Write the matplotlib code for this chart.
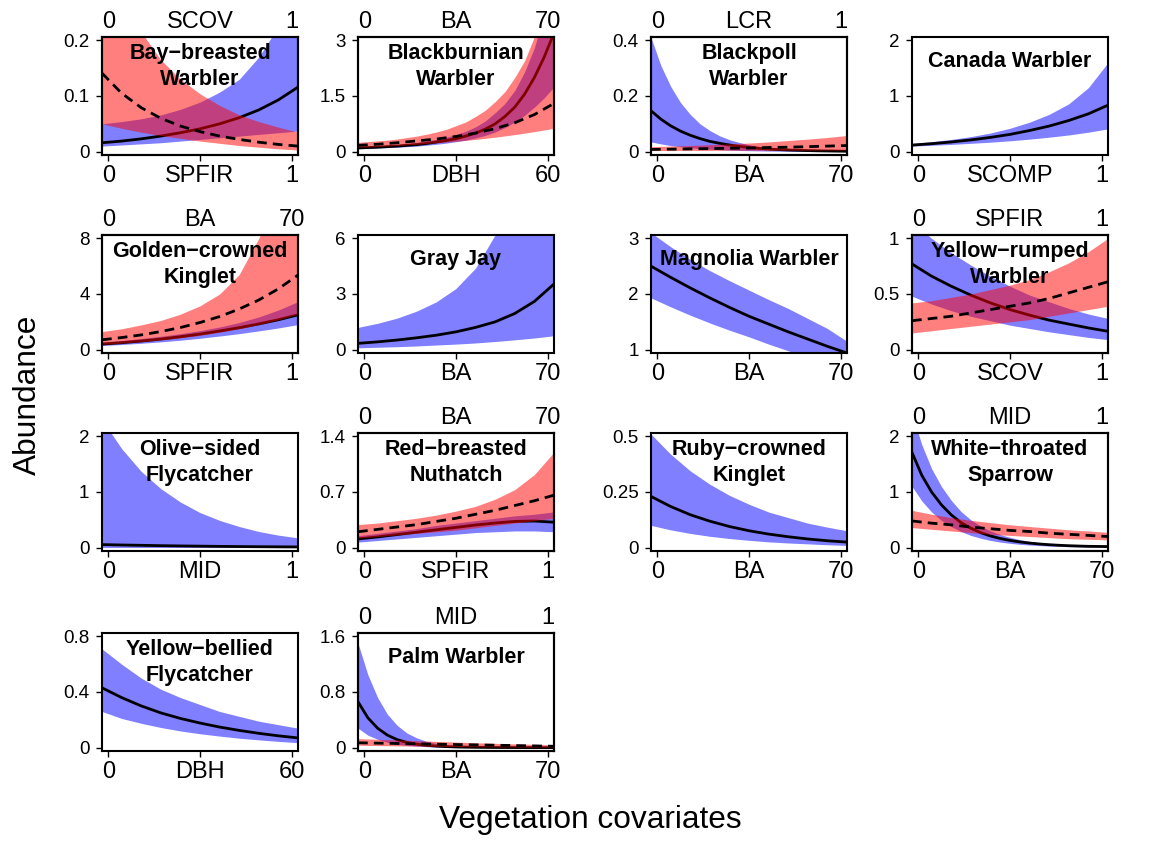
import matplotlib
matplotlib.use("Agg")
import matplotlib.pyplot as plt
import numpy as np

plt.rcParams['font.family'] = ['Liberation Sans', 'DejaVu Sans']

# Especies y covariables (eje inferior = banda azul, eje superior = banda roja)
species = ['Bay\u2212breasted\nWarbler', 'Blackburnian\nWarbler', 'Blackpoll\nWarbler', 'Canada Warbler',
           'Golden\u2212crowned\nKinglet', 'Gray Jay', 'Magnolia Warbler', 'Yellow\u2212rumped\nWarbler',
           'Olive\u2212sided\nFlycatcher', 'Red\u2212breasted\nNuthatch', 'Ruby\u2212crowned\nKinglet',
           'White\u2212throated\nSparrow', 'Yellow\u2212bellied\nFlycatcher', 'Palm Warbler']
bottom_cov = ['SPFIR', 'DBH', 'BA', 'SCOMP', 'SPFIR', 'BA', 'BA', 'SCOV',
              'MID', 'SPFIR', 'BA', 'BA', 'DBH', 'BA']
top_cov = ['SCOV', 'BA', 'LCR', None, 'BA', None, None, 'SPFIR',
           None, 'BA', None, 'MID', None, 'MID']
cov_max = {'SPFIR': 1, 'SCOV': 1, 'SCOMP': 1, 'LCR': 1, 'MID': 1, 'BA': 70, 'DBH': 60}
y_ticks = [['0', '0.1', '0.2'], ['0', '1.5', '3'], ['0', '0.2', '0.4'], ['0', '1', '2'],
           ['0', '4', '8'], ['0', '3', '6'], ['1', '2', '3'], ['0', '0.5', '1'],
           ['0', '1', '2'], ['0', '0.7', '1.4'], ['0', '0.25', '0.5'], ['0', '1', '2'],
           ['0', '0.4', '0.8'], ['0', '0.8', '1.6']]

# Valores estimados en puntos equiespaciados a lo largo de cada eje
# Bay-breasted Warbler
bbwa_fit = [0.016, 0.019, 0.023, 0.028, 0.034, 0.041, 0.05, 0.061, 0.075, 0.093, 0.116]
bbwa_lo = [0.010, 0.012, 0.014, 0.016, 0.019, 0.022, 0.025, 0.028, 0.031, 0.034, 0.037]
bbwa_hi = [0.05, 0.054, 0.059, 0.066, 0.076, 0.089, 0.107, 0.13, 0.17, 0.225, 0.3]
bbwa_fit2 = [0.141, 0.105, 0.079, 0.06, 0.046, 0.036, 0.028, 0.022, 0.017, 0.013, 0.01]
bbwa_lo2 = [0.05, 0.042, 0.035, 0.029, 0.024, 0.019, 0.015, 0.011, 0.008, 0.005, 0.003]
bbwa_hi2 = [0.4, 0.29, 0.215, 0.165, 0.13, 0.104, 0.083, 0.066, 0.054, 0.044, 0.035]
# Blackburnian Warbler
blbw_fit = [0.1, 0.11, 0.12, 0.135, 0.15, 0.17, 0.19, 0.22, 0.26, 0.3, 0.35,
            0.42, 0.5, 0.61, 0.75, 0.95, 1.2, 1.55, 2.0, 2.55, 3.2]
blbw_lo = [0.08, 0.09, 0.1, 0.11, 0.12, 0.135, 0.15, 0.175, 0.2, 0.23, 0.27,
           0.31, 0.37, 0.44, 0.53, 0.65, 0.8, 0.98, 1.2, 1.45, 1.75]
blbw_hi = [0.13, 0.14, 0.15, 0.17, 0.19, 0.22, 0.25, 0.29, 0.33, 0.39, 0.46,
           0.55, 0.67, 0.83, 1.05, 1.3, 1.65, 2.15, 2.8, 3.7, 5.0]
blbw_fit2 = [0.17, 0.2, 0.24, 0.29, 0.34, 0.41, 0.5, 0.62, 0.78, 1.0, 1.3]
blbw_lo2 = [0.12, 0.13, 0.14, 0.155, 0.17, 0.185, 0.2, 0.22, 0.24, 0.26, 0.28,
            0.305, 0.33, 0.36, 0.39, 0.425, 0.46, 0.5, 0.54, 0.585, 0.63]
blbw_hi2 = [0.25, 0.27, 0.29, 0.31, 0.34, 0.38, 0.42, 0.47, 0.53, 0.6, 0.7,
            0.8, 0.95, 1.12, 1.35, 1.62, 2.0, 2.45, 3.1, 3.9, 5.0]
# Blackpoll Warbler
bpwa_fit = [0.147, 0.117, 0.093, 0.074, 0.059, 0.047, 0.037, 0.03, 0.024, 0.019, 0.015,
            0.012, 0.0095, 0.0075, 0.006, 0.0048, 0.0038, 0.003, 0.0024, 0.0019, 0.0015]
bpwa_lo = [0.035, 0.028, 0.022, 0.018, 0.014, 0.011, 0.009, 0.007, 0.0055, 0.0044, 0.0035,
           0.0028, 0.0022, 0.0018, 0.0014, 0.0011, 0.0009, 0.0007, 0.0006, 0.0005, 0.0004]
bpwa_hi = [0.41, 0.31, 0.235, 0.177, 0.134, 0.1, 0.076, 0.057, 0.043, 0.033, 0.025,
           0.019, 0.015, 0.012, 0.0095, 0.0075, 0.006, 0.005, 0.0045, 0.004, 0.0035]
bpwa_fit2 = [0.008, 0.009, 0.01, 0.011, 0.012, 0.013, 0.015, 0.016, 0.018, 0.02, 0.022]
bpwa_lo2 = [0.004, 0.004, 0.0045, 0.0045, 0.005, 0.005, 0.005, 0.0055, 0.0055, 0.006, 0.006]
bpwa_hi2 = [0.018, 0.02, 0.022, 0.025, 0.028, 0.031, 0.035, 0.04, 0.045, 0.051, 0.058]
# Canada Warbler
cawa_fit = [0.118, 0.143, 0.174, 0.211, 0.256, 0.31, 0.38, 0.46, 0.56, 0.68, 0.835]
cawa_lo = [0.1, 0.115, 0.13, 0.15, 0.17, 0.195, 0.225, 0.26, 0.3, 0.35, 0.41]
cawa_hi = [0.145, 0.18, 0.22, 0.27, 0.335, 0.42, 0.53, 0.67, 0.86, 1.15, 1.6]
# Golden-crowned Kinglet
gcki_fit = [0.4, 0.5, 0.62, 0.76, 0.93, 1.12, 1.34, 1.58, 1.85, 2.15, 2.5]
gcki_lo = [0.3, 0.37, 0.46, 0.56, 0.68, 0.82, 0.98, 1.15, 1.35, 1.56, 1.8]
gcki_hi = [0.55, 0.66, 0.8, 0.96, 1.15, 1.37, 1.63, 1.95, 2.35, 2.85, 3.45]
gcki_fit2 = [0.71, 0.87, 1.06, 1.3, 1.59, 1.95, 2.38, 2.92, 3.57, 4.37, 5.36]
gcki_lo2 = [0.38, 0.47, 0.57, 0.7, 0.85, 1.03, 1.25, 1.5, 1.8, 2.15, 2.55]
gcki_hi2 = [1.3, 1.5, 1.78, 2.1, 2.55, 3.15, 4.0, 5.4, 8.0, 11.5, 16.0]
# Gray Jay
grja_fit = [0.34, 0.42, 0.52, 0.64, 0.78, 0.96, 1.2, 1.5, 1.95, 2.6, 3.54]
grja_lo = [0.1, 0.13, 0.16, 0.2, 0.25, 0.3, 0.36, 0.44, 0.53, 0.63, 0.75]
grja_hi = [1.2, 1.42, 1.7, 2.08, 2.58, 3.3, 4.4, 6.2, 9.0, 13.0, 17.0]
# Magnolia Warbler
mawa_fit = [2.5, 2.3, 2.11, 1.93, 1.76, 1.6, 1.46, 1.32, 1.19, 1.06, 0.94]
mawa_lo = [1.93, 1.77, 1.62, 1.48, 1.35, 1.23, 1.1, 0.98, 0.87, 0.77, 0.68]
mawa_hi = [3.1, 2.85, 2.62, 2.42, 2.24, 2.07, 1.9, 1.74, 1.56, 1.38, 1.15]
# Yellow-rumped Warbler
yrwa_fit = [0.77, 0.66, 0.57, 0.49, 0.42, 0.36, 0.31, 0.265, 0.23, 0.195, 0.165]
yrwa_lo = [0.48, 0.41, 0.35, 0.3, 0.26, 0.22, 0.19, 0.16, 0.135, 0.11, 0.09]
yrwa_hi = [1.15, 1.0, 0.87, 0.76, 0.66, 0.57, 0.49, 0.43, 0.37, 0.32, 0.28]
yrwa_fit2 = [0.26, 0.28, 0.3, 0.33, 0.36, 0.39, 0.42, 0.46, 0.51, 0.56, 0.61]
yrwa_lo2 = [0.15, 0.17, 0.19, 0.21, 0.23, 0.25, 0.27, 0.3, 0.33, 0.36, 0.39]
yrwa_hi2 = [0.42, 0.44, 0.47, 0.5, 0.54, 0.58, 0.63, 0.7, 0.78, 0.88, 1.0]
# Olive-sided Flycatcher
osfl_fit = [0.055, 0.048, 0.042, 0.036, 0.031, 0.027, 0.023, 0.02, 0.017, 0.015, 0.013]
osfl_lo = [0.004, 0.004, 0.003, 0.003, 0.003, 0.002, 0.002, 0.002, 0.002, 0.001, 0.001]
osfl_hi = [2.3, 1.78, 1.37, 1.06, 0.82, 0.63, 0.49, 0.38, 0.29, 0.225, 0.175]
# Red-breasted Nuthatch
rbnu_fit = [0.11, 0.135, 0.165, 0.195, 0.225, 0.255, 0.285, 0.31, 0.33, 0.335, 0.32]
rbnu_lo = [0.07, 0.09, 0.11, 0.13, 0.15, 0.17, 0.19, 0.2, 0.21, 0.21, 0.2]
rbnu_hi = [0.15, 0.18, 0.21, 0.24, 0.28, 0.31, 0.34, 0.37, 0.4, 0.42, 0.45]
rbnu_fit2 = [0.2, 0.23, 0.26, 0.29, 0.33, 0.37, 0.42, 0.47, 0.53, 0.59, 0.66]
rbnu_lo2 = [0.12, 0.14, 0.16, 0.18, 0.2, 0.22, 0.25, 0.28, 0.31, 0.34, 0.37]
rbnu_hi2 = [0.29, 0.31, 0.34, 0.37, 0.41, 0.46, 0.52, 0.61, 0.73, 0.92, 1.2]
# Ruby-crowned Kinglet
rcki_fit = [0.23, 0.185, 0.148, 0.119, 0.095, 0.076, 0.061, 0.049, 0.039, 0.031, 0.025]
rcki_lo = [0.1, 0.08, 0.064, 0.051, 0.041, 0.033, 0.026, 0.021, 0.017, 0.013, 0.01]
rcki_hi = [0.51, 0.42, 0.345, 0.285, 0.235, 0.195, 0.16, 0.135, 0.11, 0.092, 0.076]
# White-throated Sparrow
wtsp_fit = [1.71, 1.3, 1.0, 0.77, 0.59, 0.45, 0.35, 0.27, 0.21, 0.165, 0.13,
            0.103, 0.082, 0.066, 0.053, 0.043, 0.035, 0.029, 0.024, 0.022, 0.02]
wtsp_lo = [1.1, 0.84, 0.64, 0.49, 0.38, 0.29, 0.22, 0.17, 0.13, 0.1, 0.078,
           0.06, 0.047, 0.037, 0.029, 0.023, 0.018, 0.015, 0.012, 0.011, 0.01]
wtsp_hi = [2.4, 1.85, 1.42, 1.1, 0.85, 0.65, 0.5, 0.39, 0.3, 0.235, 0.185,
           0.145, 0.115, 0.092, 0.074, 0.06, 0.05, 0.042, 0.036, 0.033, 0.03]
wtsp_fit2 = [0.48, 0.44, 0.41, 0.37, 0.34, 0.31, 0.29, 0.26, 0.24, 0.22, 0.2]
wtsp_lo2 = [0.36, 0.33, 0.3, 0.27, 0.24, 0.22, 0.2, 0.18, 0.16, 0.15, 0.14]
wtsp_hi2 = [0.67, 0.6, 0.54, 0.49, 0.45, 0.41, 0.38, 0.35, 0.32, 0.3, 0.275]
# Yellow-bellied Flycatcher
ybfl_fit = [0.43, 0.36, 0.3, 0.25, 0.21, 0.177, 0.148, 0.124, 0.103, 0.085, 0.07]
ybfl_lo = [0.26, 0.21, 0.175, 0.145, 0.12, 0.1, 0.083, 0.068, 0.056, 0.045, 0.036]
ybfl_hi = [0.71, 0.6, 0.5, 0.42, 0.36, 0.31, 0.26, 0.225, 0.19, 0.165, 0.14]
# Palm Warbler
pawa_fit = [0.66, 0.43, 0.28, 0.18, 0.115, 0.075, 0.05, 0.033, 0.022, 0.015, 0.01,
            0.007, 0.005, 0.0035, 0.0025, 0.002, 0.0015, 0.001, 0.0008, 0.0006, 0.0005]
pawa_lo = [0.28, 0.18, 0.12, 0.077, 0.05, 0.033, 0.022, 0.014, 0.009, 0.006, 0.004,
           0.0027, 0.0018, 0.0012, 0.0008, 0.0005, 0.0004, 0.0003, 0.0002, 0.0002, 0.0001]
pawa_hi = [1.5, 1.05, 0.72, 0.48, 0.32, 0.21, 0.14, 0.09, 0.06, 0.04, 0.027,
           0.018, 0.012, 0.008, 0.006, 0.004, 0.003, 0.002, 0.0015, 0.001, 0.001]
pawa_fit2 = [0.07, 0.065, 0.06, 0.055, 0.05, 0.045, 0.04, 0.035, 0.03, 0.025, 0.02]
pawa_lo2 = [0.035, 0.03, 0.026, 0.022, 0.019, 0.016, 0.013, 0.011, 0.009, 0.007, 0.005]
pawa_hi2 = [0.13, 0.12, 0.11, 0.1, 0.09, 0.08, 0.07, 0.062, 0.054, 0.047, 0.04]

blue_curves = [(bbwa_fit, bbwa_lo, bbwa_hi), (blbw_fit, blbw_lo, blbw_hi), (bpwa_fit, bpwa_lo, bpwa_hi),
               (cawa_fit, cawa_lo, cawa_hi), (gcki_fit, gcki_lo, gcki_hi), (grja_fit, grja_lo, grja_hi),
               (mawa_fit, mawa_lo, mawa_hi), (yrwa_fit, yrwa_lo, yrwa_hi), (osfl_fit, osfl_lo, osfl_hi),
               (rbnu_fit, rbnu_lo, rbnu_hi), (rcki_fit, rcki_lo, rcki_hi), (wtsp_fit, wtsp_lo, wtsp_hi),
               (ybfl_fit, ybfl_lo, ybfl_hi), (pawa_fit, pawa_lo, pawa_hi)]
red_curves = [(bbwa_fit2, bbwa_lo2, bbwa_hi2), (blbw_fit2, blbw_lo2, blbw_hi2), (bpwa_fit2, bpwa_lo2, bpwa_hi2),
              None, (gcki_fit2, gcki_lo2, gcki_hi2), None, None, (yrwa_fit2, yrwa_lo2, yrwa_hi2),
              None, (rbnu_fit2, rbnu_lo2, rbnu_hi2), None, (wtsp_fit2, wtsp_lo2, wtsp_hi2),
              None, (pawa_fit2, pawa_lo2, pawa_hi2)]

W, H = 1149, 841
col_left = [102, 358, 651, 912]
row_top = [37, 235, 433, 633]
pw, ph = 196, 118
xpad = 0.035


def cov_axis(ax, name, pos):
    """Eje x de una covariable: 0, nombre, máximo"""
    m = cov_max[name]
    ax.set_xlim(-xpad * m, (1 + xpad) * m)
    ax.set_xticks([0, m / 2, m])
    ax.set_xticklabels(['0', name, str(m)])
    if pos == 'bottom':
        ax.tick_params(axis='x', direction='out', length=4, width=1, pad=3, labelsize=17)
    else:
        ax.tick_params(axis='x', length=0, pad=3, labelsize=17)


def grid(ax, n):
    """Posiciones x equiespaciadas que cubren todo el ancho del panel"""
    lo, hi = ax.get_xlim()
    return np.linspace(lo, hi, n)


def band(ax, curve, color, style):
    fit, lo, hi = curve
    ax.fill_between(grid(ax, len(lo)), lo, hi, color=color, alpha=0.5, lw=0)
    ax.plot(grid(ax, len(fit)), fit, color='black', lw=2, linestyle=style)


fig = plt.figure(figsize=(W / 100, H / 100), dpi=100)

for i, name in enumerate(species):
    r, c = divmod(i, 4)
    ax = fig.add_axes([col_left[c] / W, 1 - (row_top[r] + ph) / H, pw / W, ph / H])
    yl = [float(v) for v in y_ticks[i]]
    rng = yl[2] - yl[0]
    ax.set_ylim(yl[0] - 0.03 * rng, yl[2] + 0.03 * rng)
    ax.set_yticks(yl)
    ax.set_yticklabels(y_ticks[i])
    ax.tick_params(axis='y', direction='out', length=4, width=1, pad=5, labelsize=13.5)

    cov_axis(ax, bottom_cov[i], 'bottom')
    band(ax, blue_curves[i], 'blue', '-')
    for s in ax.spines.values():
        s.set_linewidth(1.5)

    ax_top = ax
    if top_cov[i] is not None:
        ax2 = ax.twiny()
        cov_axis(ax2, top_cov[i], 'top')
        band(ax2, red_curves[i], 'red', (0, (3.5, 2.2)))
        for s in ax2.spines.values():
            s.set_linewidth(1.5)
        ax_top = ax2

    two_lines = '\n' in name
    ax_top.text(0.5, 0.945 if two_lines else 0.885, name, transform=ax.transAxes,
                ha='center', va='top', fontsize=15.5, fontweight='bold', linespacing=1.3)

fig.text(28 / W, 1 - 395 / H, 'Abundance', rotation=90, ha='center', va='center', fontsize=22.8)
fig.text(590 / W, 1 - 820 / H, 'Vegetation covariates', ha='center', va='center', fontsize=22.8)

fig.savefig('out.png', dpi=100)
plt.close(fig)
